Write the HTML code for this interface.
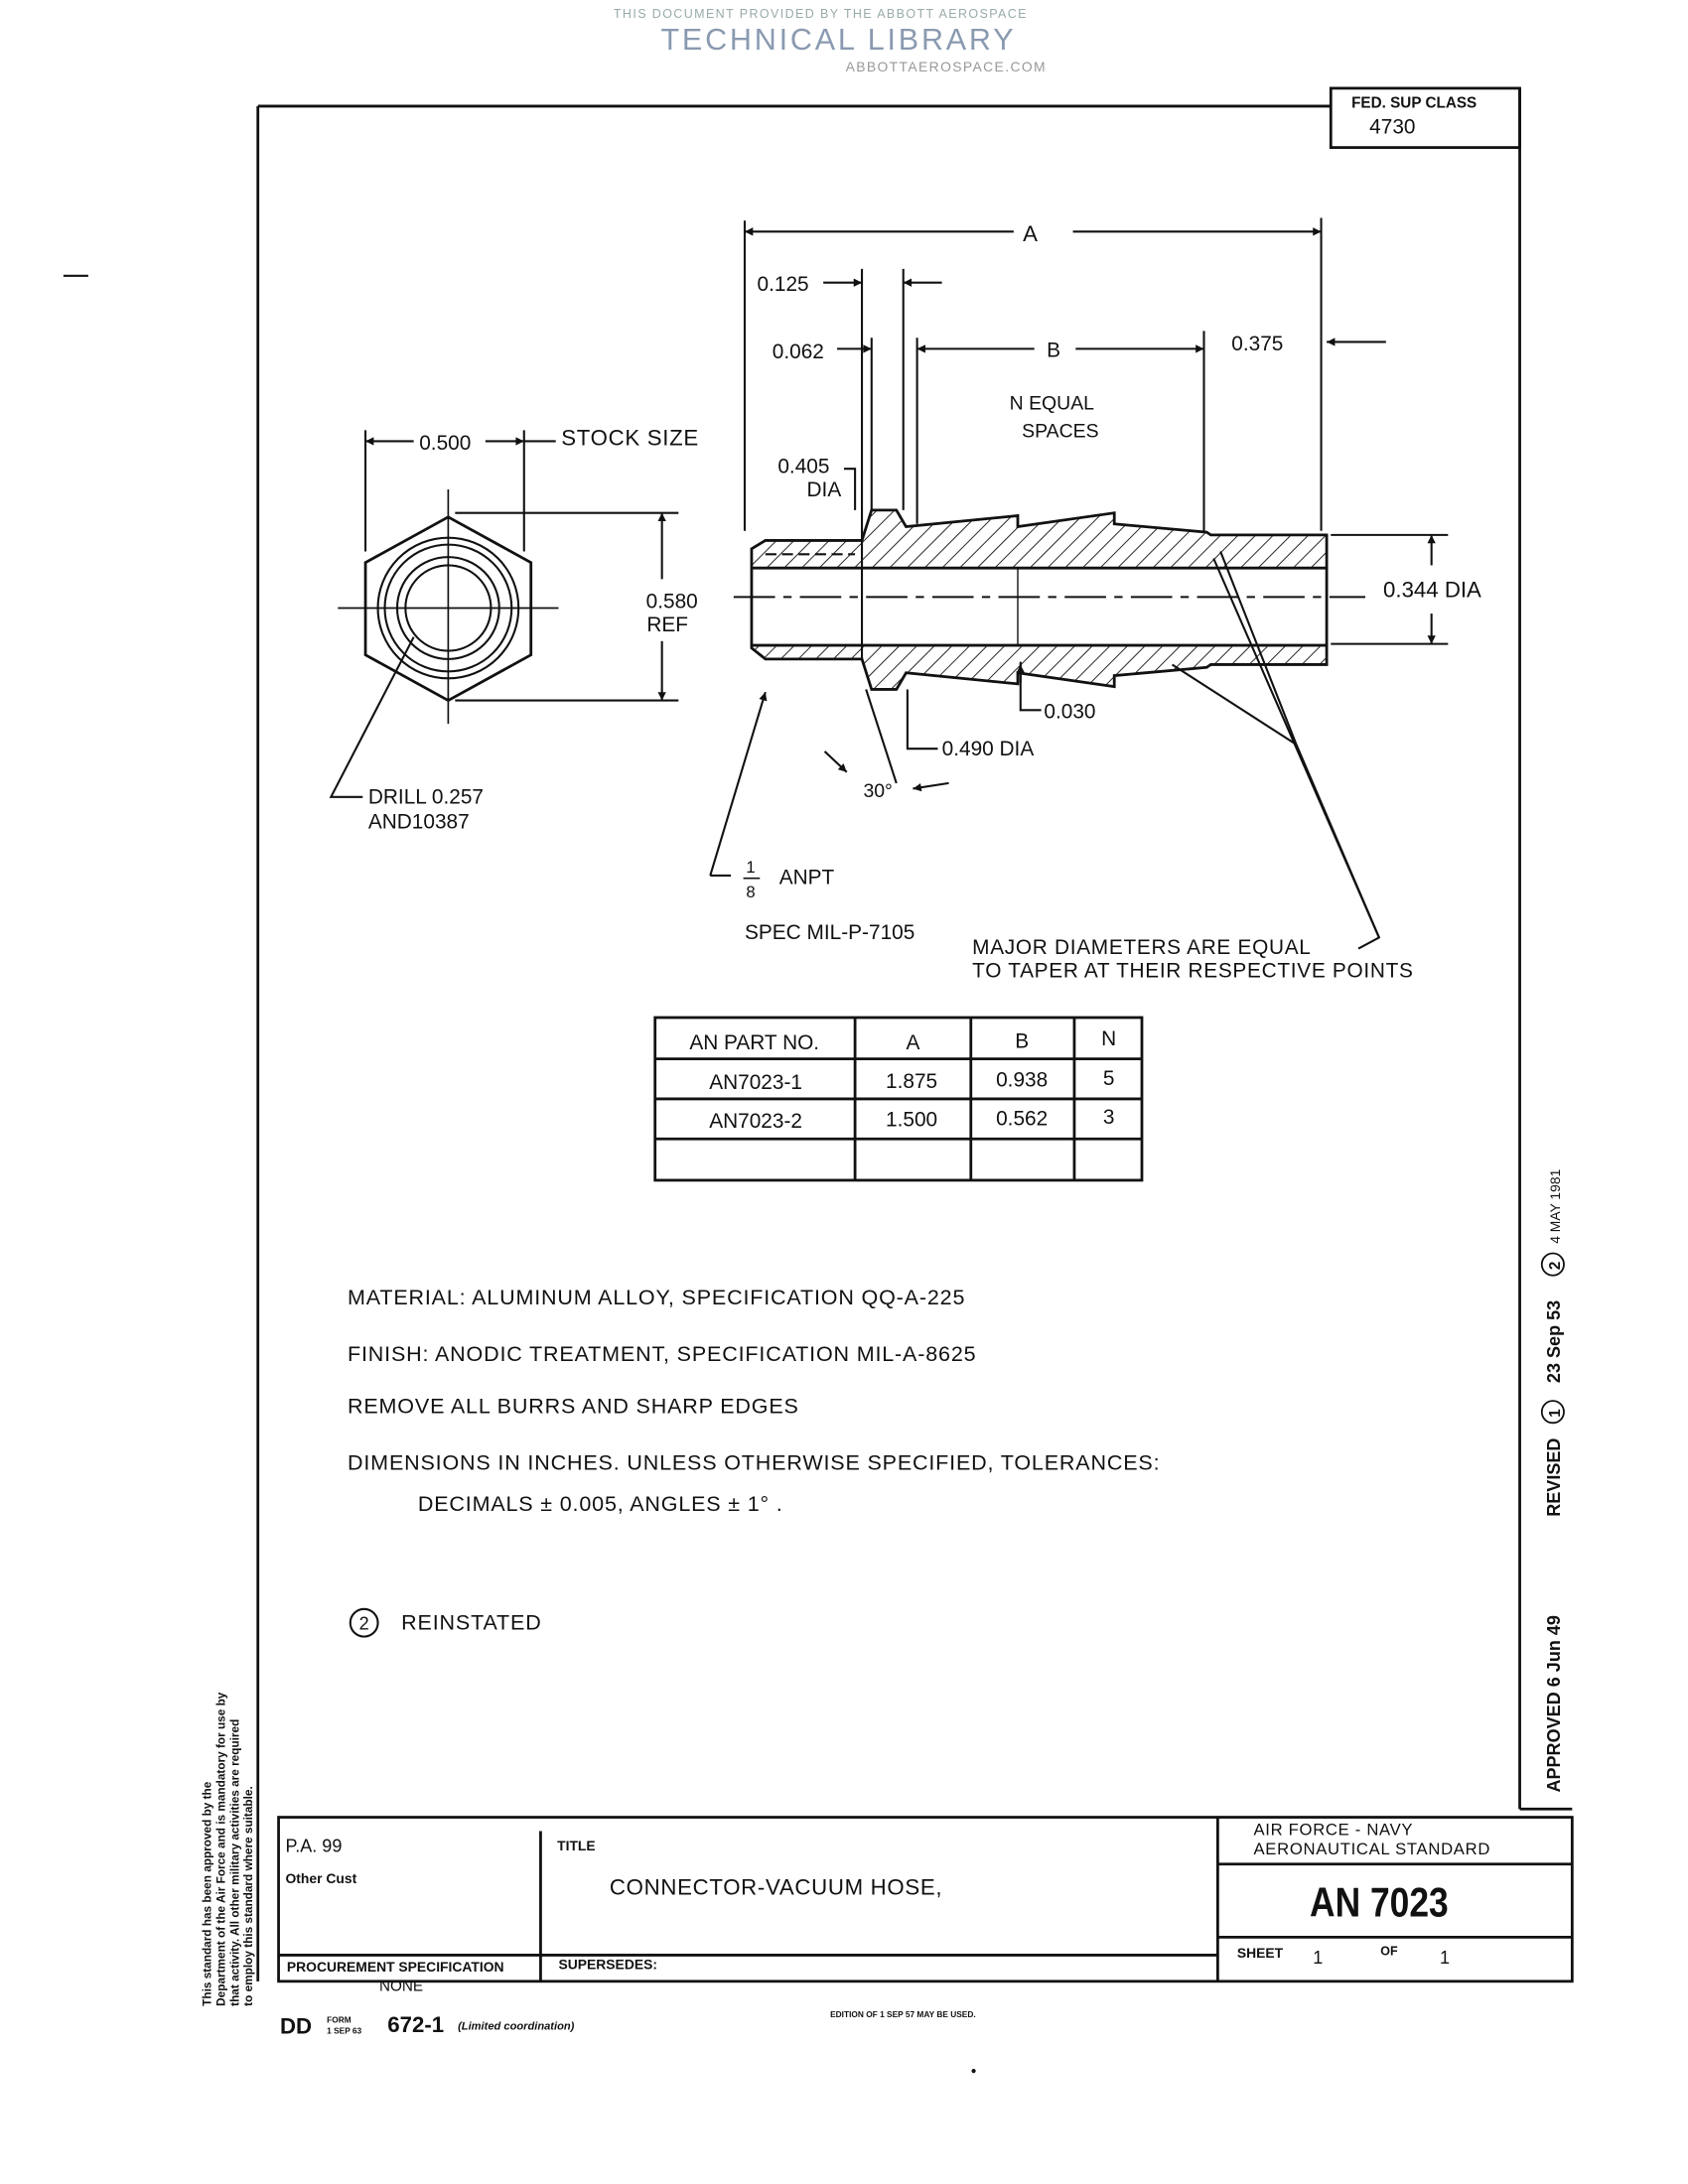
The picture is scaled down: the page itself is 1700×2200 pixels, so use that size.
<!DOCTYPE html>
<html><head><meta charset="utf-8"><style>
html,body{margin:0;padding:0;background:#fff}
svg{display:block}
text{font-family:"Liberation Sans",sans-serif;fill:#111}
</style></head><body>
<svg width="1700" height="2200" viewBox="0 0 1224 1584" xmlns="http://www.w3.org/2000/svg">
<defs>
<pattern id="h" width="9" height="9" patternUnits="userSpaceOnUse" patternTransform="rotate(45)">
<line x1="0" y1="0" x2="0" y2="9" stroke="#111" stroke-width="1.3"/></pattern>
<marker id="a" viewBox="0 0 10 10" refX="10" refY="5" markerWidth="9" markerHeight="6" orient="auto-start-reverse" markerUnits="userSpaceOnUse"><path d="M0,0 L10,5 L0,10z" fill="#111"/></marker>
</defs>
<text x="595" y="13" font-size="9" text-anchor="middle" style="fill:#9aa;letter-spacing:1px">THIS DOCUMENT PROVIDED BY THE ABBOTT AEROSPACE</text>
<text x="608" y="36" font-size="22" text-anchor="middle" style="fill:#8a9ab0;letter-spacing:2px">TECHNICAL LIBRARY</text>
<text x="686" y="52" font-size="10" text-anchor="middle" style="fill:#999;letter-spacing:1px">ABBOTTAEROSPACE.COM</text>
<line x1="46" y1="200" x2="64" y2="200" stroke="#111" stroke-width="1.5"/>

<g stroke="#111" fill="none" stroke-width="2">
<line x1="187" y1="77" x2="187" y2="1437"/>
<line x1="187" y1="77" x2="965" y2="77"/>
<rect x="965" y="64" width="137" height="43"/>
<line x1="1102" y1="64" x2="1102" y2="1312"/>
<line x1="1102" y1="1312" x2="1140" y2="1312"/>
<rect x="202" y="1318" width="938" height="119"/>
<line x1="392" y1="1328" x2="392" y2="1437"/>
<line x1="883" y1="1318" x2="883" y2="1437"/>
<line x1="202" y1="1418" x2="883" y2="1418"/>
<line x1="883" y1="1352" x2="1140" y2="1352"/>
<line x1="883" y1="1405" x2="1140" y2="1405"/>
</g>
<text x="980" y="78" font-size="11" font-weight="bold">FED. SUP CLASS</text>
<text x="993" y="97" font-size="15">4730</text>

<g stroke="#111" fill="none" stroke-width="1.5">
<polygon points="325,375 385,408 385,475 325,508 265,475 265,408" stroke-width="2"/>
<circle cx="325" cy="441" r="51"/><circle cx="325" cy="441" r="46"/>
<circle cx="325" cy="441" r="37"/><circle cx="325" cy="441" r="31"/>
<line x1="245" y1="441" x2="405" y2="441" stroke-width="1.2"/>
<line x1="325" y1="355" x2="325" y2="525" stroke-width="1.2"/>
<line x1="265" y1="312" x2="265" y2="400"/>
<line x1="380" y1="312" x2="380" y2="400"/>
<line x1="300" y1="320" x2="265" y2="320" marker-end="url(#a)"/>
<line x1="352" y1="320" x2="380" y2="320" marker-end="url(#a)"/>
<line x1="380" y1="320" x2="403" y2="320"/>
<line x1="330" y1="372" x2="492" y2="372"/>
<line x1="330" y1="508" x2="492" y2="508"/>
<line x1="480" y1="420" x2="480" y2="372" marker-end="url(#a)"/>
<line x1="480" y1="465" x2="480" y2="508" marker-end="url(#a)"/>
<polyline points="300,462 240,578 263,578"/>
</g>
<text x="304" y="326" font-size="15">0.500</text>
<text x="407" y="323" font-size="16" style="letter-spacing:.5px">STOCK SIZE</text>
<text x="506" y="441" font-size="15" text-anchor="end">0.580</text>
<text x="499" y="458" font-size="15" text-anchor="end">REF</text>
<text x="267" y="583" font-size="15">DRILL 0.257</text>
<text x="267" y="601" font-size="15">AND10387</text>

<g stroke="#111" stroke-width="2">
<path d="M545,398 L555,392 L625,392 L632,370 L650,370 L657,382 L738,374 L738,382 L808,372 L808,380 L875,386 L878,388 L962,388 L962,412 L545,412 Z" fill="url(#h)"/>
<path d="M545,470 L555,478 L625,478 L632,500 L650,500 L657,488 L738,496 L738,488 L808,498 L808,490 L875,484 L878,482 L962,482 L962,468 L545,468 Z" fill="url(#h)"/>
<rect x="545" y="412" width="417" height="56" fill="#fff"/>
</g>
<g stroke="#111" fill="none" stroke-width="1.5">
<line x1="555" y1="402" x2="620" y2="402" stroke-dasharray="8,4"/>
<line x1="555" y1="468" x2="620" y2="468" stroke-dasharray="8,4"/>
<line x1="532" y1="433" x2="990" y2="433" stroke-dasharray="30,6,6,6"/>
<line x1="625" y1="392" x2="625" y2="478"/>
<line x1="738" y1="412" x2="738" y2="468" stroke-width="1"/>
<line x1="540" y1="160" x2="540" y2="385"/>
<line x1="958" y1="158" x2="958" y2="385"/>
<line x1="735" y1="168" x2="540" y2="168" marker-end="url(#a)"/>
<line x1="778" y1="168" x2="958" y2="168" marker-end="url(#a)"/>
<line x1="625" y1="195" x2="625" y2="392"/>
<line x1="655" y1="195" x2="655" y2="370"/>
<line x1="597" y1="205" x2="625" y2="205" marker-end="url(#a)"/>
<line x1="683" y1="205" x2="655" y2="205" marker-end="url(#a)"/>
<line x1="632" y1="245" x2="632" y2="370"/>
<line x1="665" y1="245" x2="665" y2="380"/>
<line x1="607" y1="253" x2="632" y2="253" marker-end="url(#a)"/>
<line x1="750" y1="253" x2="665" y2="253" marker-end="url(#a)"/>
<line x1="780" y1="253" x2="873" y2="253" marker-end="url(#a)"/>
<line x1="873" y1="240" x2="873" y2="386"/>
<line x1="1005" y1="248" x2="962" y2="248" marker-end="url(#a)"/>
<polyline points="612,340 620,340 620,370"/>
<line x1="965" y1="388" x2="1050" y2="388"/>
<line x1="965" y1="467" x2="1050" y2="467"/>
<line x1="1038" y1="410" x2="1038" y2="388" marker-end="url(#a)"/>
<line x1="1038" y1="445" x2="1038" y2="467" marker-end="url(#a)"/>
<polyline points="740,480 740,515 755,515"/>
<line x1="740" y1="495" x2="740" y2="482" marker-end="url(#a)"/>
<polyline points="658,500 658,543 680,543"/>
<line x1="598" y1="545" x2="614" y2="560" marker-end="url(#a)"/>
<line x1="688" y1="568" x2="662" y2="572" marker-end="url(#a)"/>
<line x1="628" y1="500" x2="650" y2="568"/>
<line x1="530" y1="635" x2="515" y2="635"/>
<line x1="515" y1="635" x2="555" y2="502" marker-end="url(#a)"/>
<polyline points="985,688 1000,680 880,405"/>
<line x1="1000" y1="680" x2="940" y2="540"/>
<line x1="940" y1="540" x2="850" y2="482"/>
<line x1="940" y1="540" x2="885" y2="400"/>
</g>
<text x="747" y="175" font-size="16" text-anchor="middle">A</text>
<text x="549" y="211" font-size="15">0.125</text>
<text x="560" y="260" font-size="15">0.062</text>
<text x="764" y="259" font-size="15" text-anchor="middle">B</text>
<text x="893" y="254" font-size="15">0.375</text>
<text x="732" y="297" font-size="14">N  EQUAL</text>
<text x="741" y="317" font-size="14">SPACES</text>
<text x="564" y="343" font-size="15">0.405</text>
<text x="585" y="360" font-size="15">DIA</text>
<text x="1003" y="433" font-size="16">0.344 DIA</text>
<text x="757" y="521" font-size="15">0.030</text>
<text x="683" y="548" font-size="15">0.490 DIA</text>
<text x="626" y="578" font-size="14">30°</text>
<text x="541" y="633" font-size="12">1</text>
<line x1="539" y1="637" x2="551" y2="637" stroke="#111" stroke-width="1.2"/>
<text x="541" y="651" font-size="12">8</text>
<text x="565" y="641" font-size="15">ANPT</text>
<text x="540" y="681" font-size="15">SPEC MIL-P-7105</text>
<text x="705" y="692" font-size="15" style="letter-spacing:.5px">MAJOR DIAMETERS ARE EQUAL</text>
<text x="705" y="709" font-size="15" style="letter-spacing:.5px">TO TAPER AT THEIR RESPECTIVE POINTS</text>

<g stroke="#111" fill="none" stroke-width="2">
<rect x="475" y="738" width="353" height="118"/>
<line x1="620" y1="738" x2="620" y2="856"/><line x1="704" y1="738" x2="704" y2="856"/><line x1="779" y1="738" x2="779" y2="856"/>
<line x1="475" y1="768" x2="828" y2="768"/><line x1="475" y1="797" x2="828" y2="797"/><line x1="475" y1="826" x2="828" y2="826"/>
</g>
<g font-size="15" text-anchor="middle">
<text x="547" y="761">AN PART NO.</text><text x="662" y="761">A</text><text x="741" y="760">B</text><text x="804" y="758">N</text>
<text x="548" y="790">AN7023-1</text><text x="661" y="789">1.875</text><text x="741" y="788">0.938</text><text x="804" y="787">5</text>
<text x="548" y="818">AN7023-2</text><text x="661" y="817">1.500</text><text x="741" y="816">0.562</text><text x="804" y="815">3</text>
</g>

<g font-size="15.5" style="letter-spacing:.6px">
<text x="252" y="946">MATERIAL:  ALUMINUM ALLOY, SPECIFICATION QQ-A-225</text>
<text x="252" y="987">FINISH:  ANODIC TREATMENT, SPECIFICATION MIL-A-8625</text>
<text x="252" y="1025">REMOVE ALL BURRS AND SHARP EDGES</text>
<text x="252" y="1066">DIMENSIONS IN INCHES.  UNLESS OTHERWISE SPECIFIED, TOLERANCES:</text>
<text x="303" y="1096">DECIMALS ± 0.005, ANGLES ± 1° .</text>
<text x="291" y="1182">REINSTATED</text>
</g>
<circle cx="264" cy="1177" r="10" fill="none" stroke="#111" stroke-width="1.5"/>
<text x="264" y="1182" font-size="13" text-anchor="middle">2</text>

<g transform="translate(1131,1300) rotate(-90)" font-size="13" font-weight="bold">
<text x="0" y="0">APPROVED 6 Jun 49</text>
<text x="200" y="0">REVISED</text>
<circle cx="276" cy="-5" r="8" fill="none" stroke="#111" stroke-width="1.3"/><text x="272" y="0" font-size="11">1</text>
<text x="297" y="0">23 Sep 53</text>
<circle cx="383" cy="-5" r="8" fill="none" stroke="#111" stroke-width="1.3"/><text x="379" y="0" font-size="11">2</text>
<text x="398" y="0" font-size="10" font-weight="normal">4 MAY 1981</text>
</g>
<g transform="translate(153,1455) rotate(-90)" font-size="8.5" font-weight="bold">
<text x="0" y="0">This standard has been approved by the</text>
<text x="0" y="10">Department of the Air Force and is mandatory for use by</text>
<text x="0" y="20">that activity.  All other military activities are required</text>
<text x="0" y="30">to employ this standard where suitable.</text>
</g>

<text x="207" y="1343" font-size="13">P.A. 99</text>
<text x="207" y="1366" font-size="10" font-weight="bold">Other Cust</text>
<text x="404" y="1342" font-size="10" font-weight="bold">TITLE</text>
<text x="442" y="1374" font-size="16" style="letter-spacing:.5px">CONNECTOR-VACUUM HOSE,</text>
<text x="909" y="1331" font-size="12" style="letter-spacing:.5px">AIR FORCE - NAVY</text>
<text x="909" y="1345" font-size="12" style="letter-spacing:.5px">AERONAUTICAL STANDARD</text>
<text x="1000" y="1390" font-size="30" font-weight="bold" text-anchor="middle" transform="translate(1000,0) scale(0.85,1) translate(-1000,0)">AN 7023</text>
<text x="897" y="1420" font-size="10" font-weight="bold">SHEET</text>
<text x="952" y="1424" font-size="13">1</text>
<text x="1001" y="1418" font-size="9" font-weight="bold">OF</text>
<text x="1044" y="1424" font-size="13">1</text>
<text x="208" y="1430" font-size="10" font-weight="bold">PROCUREMENT SPECIFICATION</text>
<text x="275" y="1444" font-size="11">NONE</text>
<text x="405" y="1428" font-size="10" font-weight="bold">SUPERSEDES:</text>
<text x="203" y="1475" font-size="16" font-weight="bold">DD</text>
<text x="237" y="1467" font-size="6" font-weight="bold">FORM</text>
<text x="237" y="1475" font-size="6" font-weight="bold">1 SEP 63</text>
<text x="281" y="1474" font-size="16" font-weight="bold">672-1</text>
<text x="332" y="1472" font-size="8" font-weight="bold" font-style="italic">(Limited coordination)</text>
<text x="602" y="1463" font-size="6" font-weight="bold">EDITION OF 1 SEP 57 MAY BE USED.</text>
<circle cx="706" cy="1502" r="1.5" fill="#111"/>
</svg>
</body></html>
